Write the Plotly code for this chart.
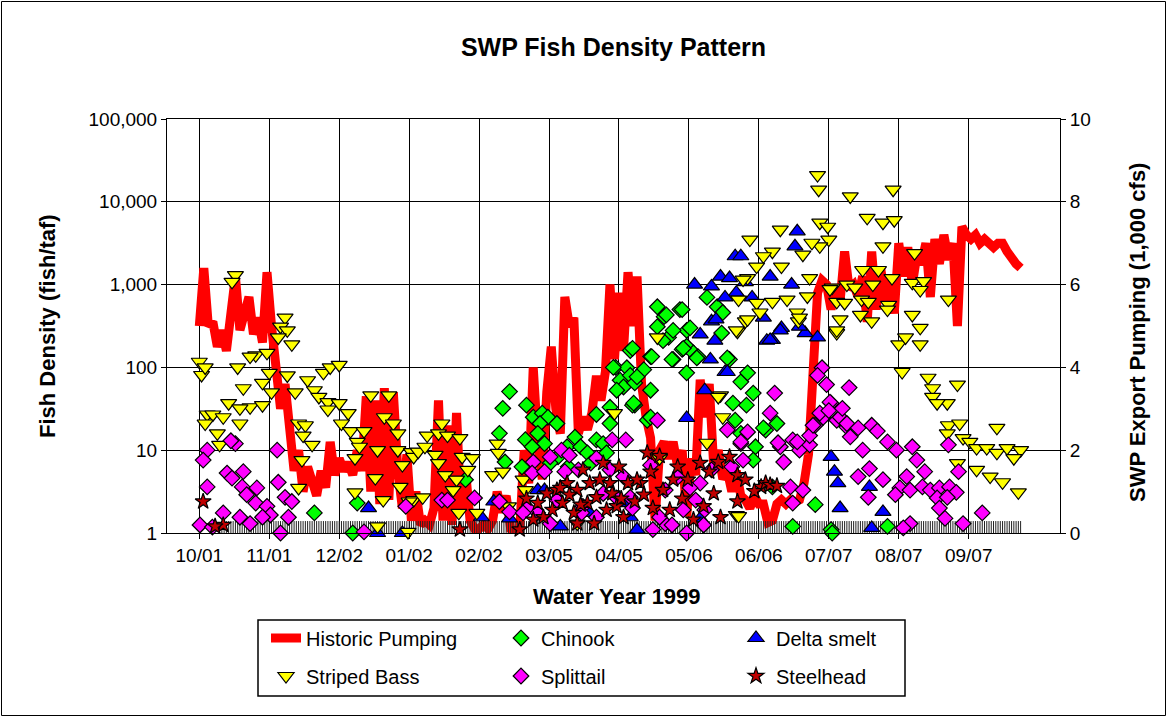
import plotly.graph_objects as go
import pandas as pd

START = pd.Timestamp("1998-10-01")

# ---------------- data ----------------
# Historic SWP export pumping (1,000 cfs), read every 2nd day from 10/01/1998
pump_step_days = 2
pump_kcfs = [
    5.0, 6.4, 5.0, 5.1, 4.5, 4.9, 4.4, 5.2, 6.2, 4.9,
    5.4, 5.7, 4.8, 5.2, 4.6, 6.3, 5.0, 4.0, 3.0, 3.6,
    2.4, 1.5, 2.0, 1.0, 1.6, 1.2, 0.9, 1.5, 1.1, 2.2,
    1.4, 1.8, 1.5, 1.7, 1.4, 2.0, 1.5, 3.3, 1.0, 3.2,
    0.7, 3.5, 0.8, 3.4, 1.5, 0.6, 1.9, 0.3, 1.0, 0.2,
    0.3, 0.2, 0.6, 3.2, 0.3, 2.6, 0.2, 2.9, 0.5, 1.5,
    0.3, 0.1, 0.1, 0.2, 0.1, 0.3, 1.0, 0.5, 0.9, 0.1,
    0.05, 0.1, 2.0, 1.2, 4.0, 2.2, 1.3, 3.4, 4.5, 3.0,
    2.4, 5.7, 5.0, 5.2, 2.4, 2.8, 2.5, 2.9, 3.8, 3.2,
    3.9, 6.0, 4.2, 5.8, 4.4, 6.3, 5.0, 6.2, 3.6, 2.8,
    2.3, 0.3, 2.0, 2.2, 1.8, 2.2, 1.6, 2.0, 0.4, 1.8,
    1.4, 3.7, 2.8, 3.6, 1.6, 2.0, 1.3, 1.5, 1.0, 1.5,
    0.9, 0.8, 0.6, 0.9, 0.7, 0.7, 0.25, 0.3, 0.7, 0.8,
    0.7, 0.8, 0.75, 0.8, 1.2, 1.9, 4.4, 5.8, 6.1, 6.0,
    5.4, 6.0, 5.6, 6.8, 5.9, 6.0, 5.7, 6.2, 5.1, 6.8,
    5.4, 6.4, 5.6, 6.2, 5.3, 7.0, 6.2, 6.9, 6.0, 6.7,
    6.5, 7.0, 5.7, 7.1, 6.5, 7.2, 6.6, 7.0, 5.0, 7.4,
    7.2, 7.1, 7.2, 7.0, 7.1, 7.0, 6.9, 7.0, 7.0, 6.8,
    6.6, 6.5, 6.4,
]

# Days (since 10/01/1998) with zero catch, shown as ticks along the bottom
zero_days = list(range(10, 365))
zero_level = 1.17

# Fish densities (fish/taf): (day of water year, density)
striped_bass = [
    (0, 117), (1, 81), (2.6, 100), (16, 1300), (14.5, 1080), (17, 100), (19.5, 56), (13, 37),
    (3.5, 27), (6, 27), (10.6, 25), (2.6, 21), (8, 16), (9, 11.6), (18, 21), (22.5, 33),
    (18, 32), (28, 35), (32, 50), (31, 86), (28, 65), (25, 140), (30, 150), (22.5, 135),
    (38, 400), (36, 310), (39, 280), (35, 230), (41, 190), (39, 80), (42.5, 50), (44, 21),
    (47, 20), (46, 15), (50, 11.6), (45.5, 7.6), (44, 3.5), (48, 70), (51, 53), (53, 44),
    (57, 38), (57, 31), (55, 86), (58, 100), (62, 107), (62, 37), (66, 28), (63, 21),
    (67, 17), (70, 12.6), (69, 8), (71, 11), (76, 46), (84, 46), (73, 17), (79, 10),
    (78, 4.6), (69, 3.1), (82, 25), (86, 21), (88, 16), (88, 10), (90, 6.6), (89, 3.6),
    (94, 9.5), (95, 2.5), (79, 1.2), (92.5, 1.03), (81.5, 2.5),
    (95, 8.3), (93, 2.4), (99, 2.7), (97, 9.6), (100, 11), (101, 15), (107.5, 21), (106, 16),
    (110, 15), (115.5, 14), (104.5, 8.8), (106, 7), (109, 5), (114, 4.4), (112.5, 3.3),
    (116.5, 8.3), (121, 8), (119, 5.8), (115, 1.75), (123, 1.75), (132, 12), (132.5, 9.3),
    (130, 5), (134.5, 5.5), (137, 2.1), (143.5, 4.4), (144.5, 3.3), (167.5, 1.3), (184, 28),
    (203, 230), (225, 12.3), (231, 46), (232, 25), (238, 1.65), (204, 8), (230, 44), (239, 1.6),
    (274, 21000), (274.5, 14000), (288.5, 11600), (307.5, 14000), (296, 6400), (303, 5600),
    (308, 6000), (257.5, 4600), (244, 3500), (275, 5600), (278.5, 5000), (279, 3500),
    (275, 2900), (271.5, 3200), (303, 2900), (254, 2500), (267.5, 2300), (317, 2400),
    (250, 2200), (247, 1650), (258, 1650), (294, 1500), (301, 1500), (307, 1200),
    (270.5, 1200), (243, 1200), (280.5, 920), (287, 1000), (290.5, 920), (298.5, 1000),
    (316, 1050), (321, 1100), (319.5, 860), (269.5, 720), (260.5, 660), (254, 620),
    (239, 660), (247, 600), (282.5, 620), (286, 600), (293.5, 660), (296.5, 620),
    (305.5, 570), (332, 660), (265, 460), (248.5, 460), (284, 380), (293, 430), (298, 360),
    (305, 500), (316, 430), (319.5, 300), (242, 360), (238.5, 270), (265.5, 360),
    (282.5, 260), (310, 190), (313, 230), (319.5, 190), (311.5, 88), (323, 75), (325, 56),
    (336, 62), (325, 44), (331.5, 37), (327, 37), (332, 20), (337, 21), (331.5, 16),
    (338.5, 14), (341.5, 12.6), (344.5, 10.6), (353.5, 18.6), (349, 10.6), (353.5, 9.3),
    (358, 10.6), (364, 10), (361, 8), (344.5, 5.8), (350.5, 4.8), (356, 4.1), (363, 3.1),
    (336, 7), (241, 1150), (238, 280), (243, 380), (266, 400), (279.5, 880), (282.5, 280),
]

chinook = [
    (51, 1.75), (70, 2.3), (68, 1.0), (137.5, 51), (134.5, 32), (133, 16), (135.5, 7.2),
    (118, 4.4), (145, 35), (148, 25), (152, 28), (154.5, 25), (158.5, 21), (151, 21),
    (150, 16), (144.5, 13.4), (153, 12), (147.5, 11), (143, 6.3), (163, 11), (166.5, 14.4),
    (169, 11), (159, 8.3), (163.5, 6.3), (155.5, 7), (176, 27), (182, 21), (176, 13.3),
    (179, 12), (172, 9.3), (173.5, 7), (180.5, 9.3), (182, 33), (191, 160), (184.5, 100),
    (189.5, 99), (186.5, 70), (191, 80), (188, 58), (185, 53), (193, 65), (193, 35),
    (192, 170), (183.5, 100), (197, 94), (200, 135), (192, 35), (198.5, 23), (203, 540),
    (203, 310), (206, 410), (208, 230), (213, 500), (216, 280), (210, 280), (216, 180),
    (210, 125), (214, 165), (216, 86), (219, 150), (221, 135), (225, 700), (229.5, 540),
    (231.5, 260), (236.5, 37), (237.5, 23), (235, 125), (207, 430), (214, 500), (217.5, 300),
    (205.5, 210), (214.5, 170), (220.5, 130), (232, 460), (209.5, 125), (200.5, 135),
    (234, 130), (240, 67), (243, 86), (242.5, 35), (245.5, 49), (240, 16), (246.5, 11),
    (251, 17.5), (256, 21), (245.5, 7.6), (254, 3.6), (273, 2.2), (263, 1.2), (280, 1.1),
    (200, 25), (194, 77), (200, 53), (192.5, 37), (250, 18.6), (280.5, 1.0), (305, 1.2),
]

delta_smelt = [
    (75, 2.0), (79, 1.0), (90, 1.0), (125, 1.55), (130.5, 2.4), (137.5, 1.5), (150, 3.3),
    (153, 3.3), (188, 2.3), (191, 1.55), (194, 1.1), (173, 1.75), (216, 24.5), (224, 53),
    (233, 88), (227, 360), (237.5, 2200), (231, 1250), (240, 2200), (235, 1200), (238, 800),
    (222, 250), (229, 380), (228.5, 210), (226.5, 125), (234, 88), (250, 400), (254, 215),
    (258, 300), (268.5, 260), (274, 230), (251.5, 210), (280, 8.3), (281.5, 5.5), (283, 4.0),
    (284, 2.0), (265, 4400), (264, 2900), (253, 1250), (262.5, 1000), (257.5, 280),
    (266, 310), (253, 215), (297, 3.6), (303, 1.8), (298, 1.15), (219.5, 1000), (227, 950),
    (242, 1070), (245, 700), (233, 700), (222, 1.5), (160, 1.2),
]

splittail = [
    (3.5, 10), (1.7, 7.6), (16, 12), (14, 13), (34.5, 10), (3.5, 3.6), (12.3, 5.3),
    (14.5, 4.6), (19.5, 5.5), (25.5, 3.5), (19, 3.6), (21, 2.9), (35, 4.1), (38, 2.7),
    (41, 2.4), (25, 2.3), (30, 2.1), (31.5, 1.65), (28, 1.55), (39.5, 1.55), (10.6, 1.75),
    (18, 1.55), (22.5, 1.3), (0.3, 1.25), (5.8, 1.18), (36, 1.0), (91.5, 2.1), (73, 1.03),
    (107.5, 2.5), (110, 2.5), (122, 2.65), (133, 2.4), (145.5, 2.0), (148, 7.2), (147.5, 5.3),
    (155.5, 8.3), (160.5, 10), (153, 5.5), (162, 5.5), (168, 5.8), (176, 8), (164, 8.7),
    (170, 2.1), (158.5, 2.5), (183, 13.3), (189, 13.3), (182, 5.8), (188, 4.8), (191, 2.7),
    (192, 2.0), (179, 3.0), (185, 2.65), (155.5, 1.3), (169.5, 1.75), (176, 1.55), (150, 1.75),
    (137.5, 1.8), (143.5, 1.75),
    (203, 23), (234, 17.6), (243, 16.6), (240, 12), (253, 28), (255, 49), (241, 7.6),
    (236, 6.3), (257.5, 11), (259, 7.2), (263, 13.3), (266, 10), (270.5, 11.6), (276, 99),
    (278, 62), (274, 80), (288, 57), (280, 37), (273, 20), (276.5, 25), (282.5, 23), (287, 19),
    (288.5, 14.5), (262, 3.6), (267.5, 3.3), (263, 2.3), (222, 4.0), (214.5, 1.9), (206.5, 1.3),
    (216, 1.0), (223.5, 1.25), (212, 4.7), (200, 6.6), (206.5, 3.3), (217.5, 3.5), (227, 5.8),
    (220, 2.5), (224, 1.9), (204, 1.55), (209.5, 1.25), (201, 1.1),
    (279.5, 38), (275, 28), (284, 25), (287, 21), (292, 18.6), (298, 20), (300.5, 17),
    (270.5, 15), (265, 12.6), (256.5, 12.3), (240, 12.6), (294, 10), (305, 12.6), (309, 10),
    (316, 11), (318, 7.6), (321.5, 5.5), (297, 6.0), (292, 4.8), (303, 4.4), (313.5, 4.8),
    (310.5, 3.5), (315, 3.3), (308.5, 2.9), (320.5, 3.6), (324, 3.3), (328, 3.5), (332.5, 3.6),
    (335.5, 3.1), (327, 2.65), (331.5, 2.7), (328, 2.0), (330.5, 1.5), (338.5, 1.3),
    (347, 1.75), (315, 1.3), (312, 1.15), (332, 11.6), (336.5, 5.5), (296.5, 2.7), (279, 30),
    (285, 32), (272, 20),
]

steelhead = [
    (1.7, 2.4), (10.6, 1.25), (7, 1.2), (115.5, 1.1), (142, 1.1), (198.5, 9.3), (212, 6.3),
    (200, 5.5), (216.5, 4.4), (222, 7), (230, 7.2), (235, 8.3), (238.5, 5), (242, 4.4),
    (249, 3.6), (251, 4.0), (238.5, 2.4), (231, 1.55), (223.5, 2.1), (210, 4.4), (205.5, 3.3),
    (195.5, 4.0), (193, 2.4), (208.5, 1.9), (219, 1.45), (228, 3.0), (163, 4.0), (167.5, 3.3),
    (173, 4.0), (177.5, 4.4), (182, 4.0), (186, 6.3), (190, 4.0), (194, 4.4), (161, 2.3),
    (166, 1.75), (172, 2.3), (176, 2.7), (180.5, 1.9), (185, 2.1), (188, 1.55), (156.5, 1.9),
    (152.5, 1.55), (148, 1.45), (154, 3.0), (158.5, 3.3), (167.5, 1.3), (175, 1.3), (170, 5.8),
    (179, 7.0), (145, 2.6), (150, 2.3), (160, 3.5), (164, 2.9), (169, 2.2), (183, 3.0),
    (187, 2.6), (197, 2.9), (201, 2.0), (204, 8.5), (214, 2.6), (226, 5.5), (246, 3.2),
    (253, 3.8), (256, 3.7),
]

tick_dates = ["1998-10-01", "1998-11-01", "1998-12-02", "1999-01-02", "1999-02-02",
              "1999-03-05", "1999-04-05", "1999-05-06", "1999-06-06", "1999-07-07",
              "1999-08-07", "1999-09-07"]
tick_labels = ["10/01", "11/01", "12/02", "01/02", "02/02", "03/05", "04/05",
               "05/06", "06/06", "07/07", "08/07", "09/07"]

# ---------------- helpers ----------------
def day_to_date(d):
    return START + pd.Timedelta(days=float(d))


def split(pairs):
    return [day_to_date(p[0]) for p in pairs], [p[1] for p in pairs]


FONT = 'Arial, "Liberation Sans", Helvetica, sans-serif'

fig = go.Figure()

pump_dates = [day_to_date(i * pump_step_days) for i in range(len(pump_kcfs))]
fig.add_trace(go.Scatter(
    x=pump_dates, y=pump_kcfs, mode="lines", name="Historic Pumping",
    line=dict(color="#FF0000", width=9), yaxis="y", legend="legend",
))

fig.add_trace(go.Scatter(
    x=[day_to_date(d) for d in zero_days], y=[zero_level] * len(zero_days),
    mode="markers", yaxis="y2", showlegend=False, hoverinfo="skip",
    marker=dict(symbol="line-ns", size=9, color="black", line=dict(width=1, color="#222222")),
))

series = [
    ("Chinook", chinook, "diamond", 12, "#00FF00", "legend"),
    ("Delta smelt", delta_smelt, "triangle-up", 14, "#0000FF", "legend"),
    ("Striped Bass", striped_bass, "triangle-down", 14, "#FFFF00", "legend2"),
    ("Splittail", splittail, "diamond", 12, "#FF00FF", "legend2"),
    ("Steelhead", steelhead, "star", 12, "#C00000", "legend2"),
]
for name, pairs, sym, size, color, leg in series:
    xs, ys = split(pairs)
    fig.add_trace(go.Scatter(
        x=xs, y=ys, mode="markers", name=name, yaxis="y2", legend=leg,
        cliponaxis=False,
        marker=dict(symbol=sym, size=size, color=color,
                    line=dict(width=1.2, color="black")),
    ))

# ---------------- layout ----------------
W, H = 1167, 717
L, R, T, B = 167, 1060, 119, 533
pw, ph = R - L, B - T


def px(x):
    return (x - L) / pw


def py(y):
    return (B - y) / ph


x_range = [START - pd.Timedelta(days=14.32), pd.Timestamp("1999-09-07") + pd.Timedelta(days=40.46)]

fig.update_layout(
    width=W, height=H, autosize=False,
    margin=dict(l=L, r=W - R, t=T, b=H - B, pad=0, autoexpand=False),
    paper_bgcolor="white", plot_bgcolor="white",
    font=dict(family=FONT, color="black", size=19),
    title=dict(text="<b>SWP Fish Density Pattern</b>", x=0.5, xref="paper", xanchor="center",
               y=1 - 47 / H, yanchor="middle", font=dict(size=25, family=FONT, color="black")),
    xaxis=dict(type="date", range=x_range, tickmode="array", tickvals=tick_dates,
               ticktext=tick_labels, showgrid=True, gridcolor="black", gridwidth=1,
               showline=True, linecolor="black", linewidth=1, mirror=True,
               ticks="outside", ticklen=5, tickcolor="black", zeroline=False,
               tickfont=dict(size=19)),
    yaxis=dict(side="right", range=[0, 10], tickmode="array", tickvals=[0, 2, 4, 6, 8, 10],
               ticktext=["0", "2", "4", "6", "8", "10"], showgrid=True, gridcolor="black",
               gridwidth=1, showline=True, linecolor="black", linewidth=1,
               ticks="outside", ticklen=5, tickcolor="black", zeroline=False,
               tickfont=dict(size=19)),
    yaxis2=dict(overlaying="y", side="left", type="log", range=[0, 5], tickmode="array",
                tickvals=[1, 10, 100, 1000, 10000, 100000],
                ticktext=["1", "10", "100", "1,000", "10,000", "100,000"],
                showgrid=False, showline=True, linecolor="black", linewidth=1,
                ticks="outside", ticklen=5, tickcolor="black", zeroline=False,
                tickfont=dict(size=19)),
    legend=dict(orientation="h", x=px(266), xanchor="left", y=py(638), yanchor="middle",
                entrywidth=190, entrywidthmode="pixels", bgcolor="rgba(0,0,0,0)",
                borderwidth=0, font=dict(size=20, family=FONT), traceorder="normal"),
    legend2=dict(orientation="h", x=px(266), xanchor="left", y=py(676), yanchor="middle",
                 entrywidth=190, entrywidthmode="pixels", bgcolor="rgba(0,0,0,0)",
                 borderwidth=0, font=dict(size=20, family=FONT), traceorder="normal"),
    shapes=[
        dict(type="rect", xref="paper", yref="paper", x0=px(258), x1=px(905),
             y0=py(696), y1=py(620), line=dict(color="black", width=1.5)),
        dict(type="rect", xref="paper", yref="paper", x0=px(1.5), x1=px(1165.5),
             y0=py(715.5), y1=py(1.5), line=dict(color="black", width=1)),
    ],
    annotations=[
        dict(text="<b>Fish Density (fish/taf)</b>", xref="paper", yref="paper",
             x=px(47), y=0.5, textangle=-90, showarrow=False, xanchor="center",
             yanchor="middle", font=dict(size=22, family=FONT)),
        dict(text="<b>SWP Export Pumping (1,000 cfs)</b>", xref="paper", yref="paper",
             x=px(1137), y=py(333), textangle=-90, showarrow=False, xanchor="center",
             yanchor="middle", font=dict(size=22, family=FONT)),
        dict(text="<b>Water Year 1999</b>", xref="paper", yref="paper",
             x=px(617), y=py(596), showarrow=False, xanchor="center",
             yanchor="middle", font=dict(size=22, family=FONT)),
    ],
)

fig.write_html(
    "out.html",
    config={"displayModeBar": False},
    post_script="document.body.style.margin='0';document.body.style.padding='0';",
)
